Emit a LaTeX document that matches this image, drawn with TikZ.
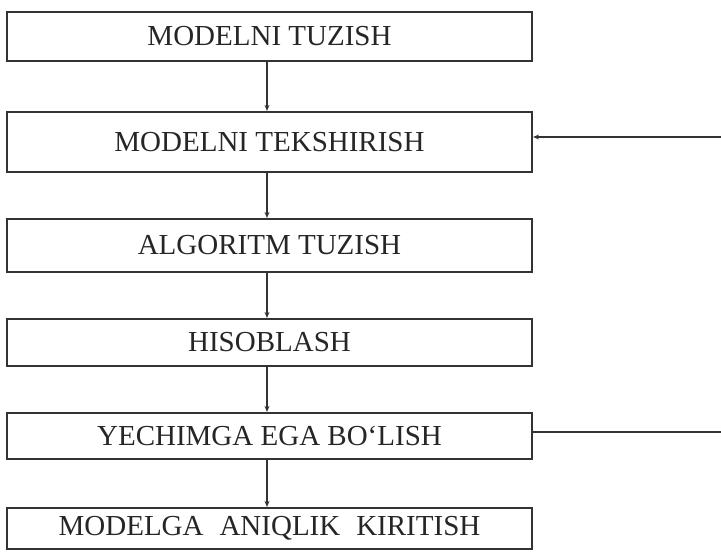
\documentclass[tikz,border=0pt]{standalone}
\usepackage{fontspec}
\setmainfont{Liberation Serif}
\usetikzlibrary{arrows.meta}
\begin{document}
\begin{tikzpicture}[x=1pt,y=-1pt,
  stepbox/.style={draw=black!80,line width=2.2pt,rectangle,inner sep=0pt,minimum width=525pt,
    font=\fontsize{29}{31}\selectfont,text=black!85},
  conn/.style={draw=black!80,line width=2pt},
  arr/.style={conn,-{Stealth[length=6pt,width=5pt]}}]
\useasboundingbox (0,0) rectangle (721,552);
\fill[white] (0,0) rectangle (721,552);
\node[stepbox,minimum height=49pt] (b1) at (269.5,36.5) {MODELNI TUZISH};
\node[stepbox,minimum height=60pt] (b2) at (269.5,142) {MODELNI TEKSHIRISH};
\node[stepbox,minimum height=53pt] (b3) at (269.5,245.5) {ALGORITM TUZISH};
\node[stepbox,minimum height=47pt] (b4) at (269.5,342.5) {HISOBLASH};
\node[stepbox,minimum height=46pt] (b5) at (269.5,436) {YECHIMGA EGA BO‘LISH};
\node[stepbox,minimum height=41pt] (b6) at (269.5,528.5) {MODELGA\hspace{0.55em}ANIQLIK\hspace{0.55em}KIRITISH};
\coordinate (v) at (267,0);
\draw[arr] (b1.south -| v) -- (b2.north -| v);
\draw[arr] (b2.south -| v) -- (b3.north -| v);
\draw[arr] (b3.south -| v) -- (b4.north -| v);
\draw[arr] (b4.south -| v) -- (b5.north -| v);
\draw[arr] (b5.south -| v) -- (b6.north -| v);
\coordinate (r1) at (721,137);
\coordinate (r2) at (721,432);
\draw[arr] (r1) -- (r1 -| b2.east);
\draw[conn] (r2 -| b5.east) -- (r2);
\end{tikzpicture}
\end{document}
